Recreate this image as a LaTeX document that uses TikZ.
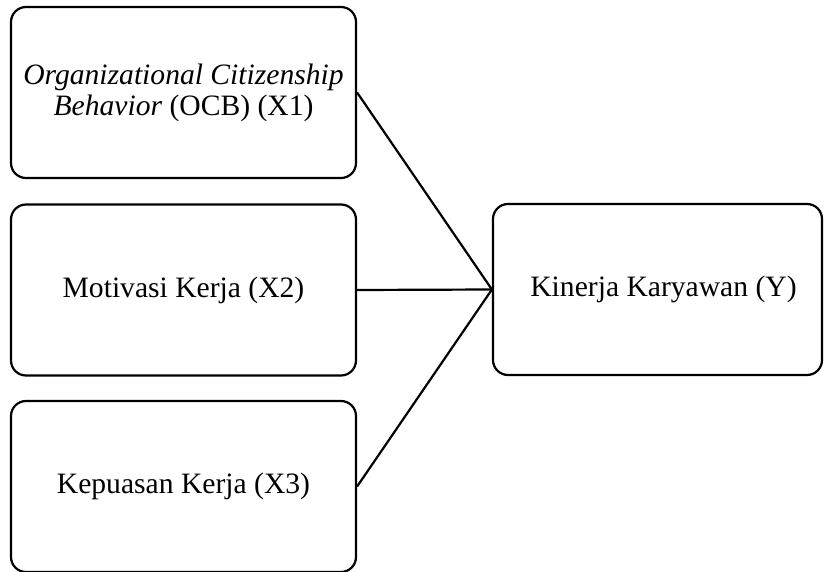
\documentclass[tikz,border=0pt]{standalone}
\usepackage{fontspec}
\setmainfont{Liberation Serif}
\begin{document}
\begin{tikzpicture}[x=1pt,y=-1pt,
  box/.style={draw=black, line width=2.2pt, rounded corners=15pt, minimum width=345pt, minimum height=171pt, inner sep=0pt, align=center, font=\fontsize{29.6}{31}\selectfont},
  link/.style={draw=black, line width=2.2pt}]
\useasboundingbox (0,0) rectangle (824,572);
\node[box] (b1) at (183.5,92.5) {\textit{Organizational Citizenship}\\\textit{Behavior} (OCB) (X1)};
\node[box] (b2) at (183.5,290) {Motivasi Kerja (X2)};
\node[box] (b3) at (183.5,486.5) {Kepuasan Kerja (X3)};
\node[box, minimum width=329pt] (y) at (657.5,289.5) {\hspace*{12pt}Kinerja Karyawan (Y)};
\draw[link] (b1.east) -- (y.west);
\draw[link] (b2.east) -- (y.west);
\draw[link] (b3.east) -- (y.west);
\end{tikzpicture}
\end{document}
